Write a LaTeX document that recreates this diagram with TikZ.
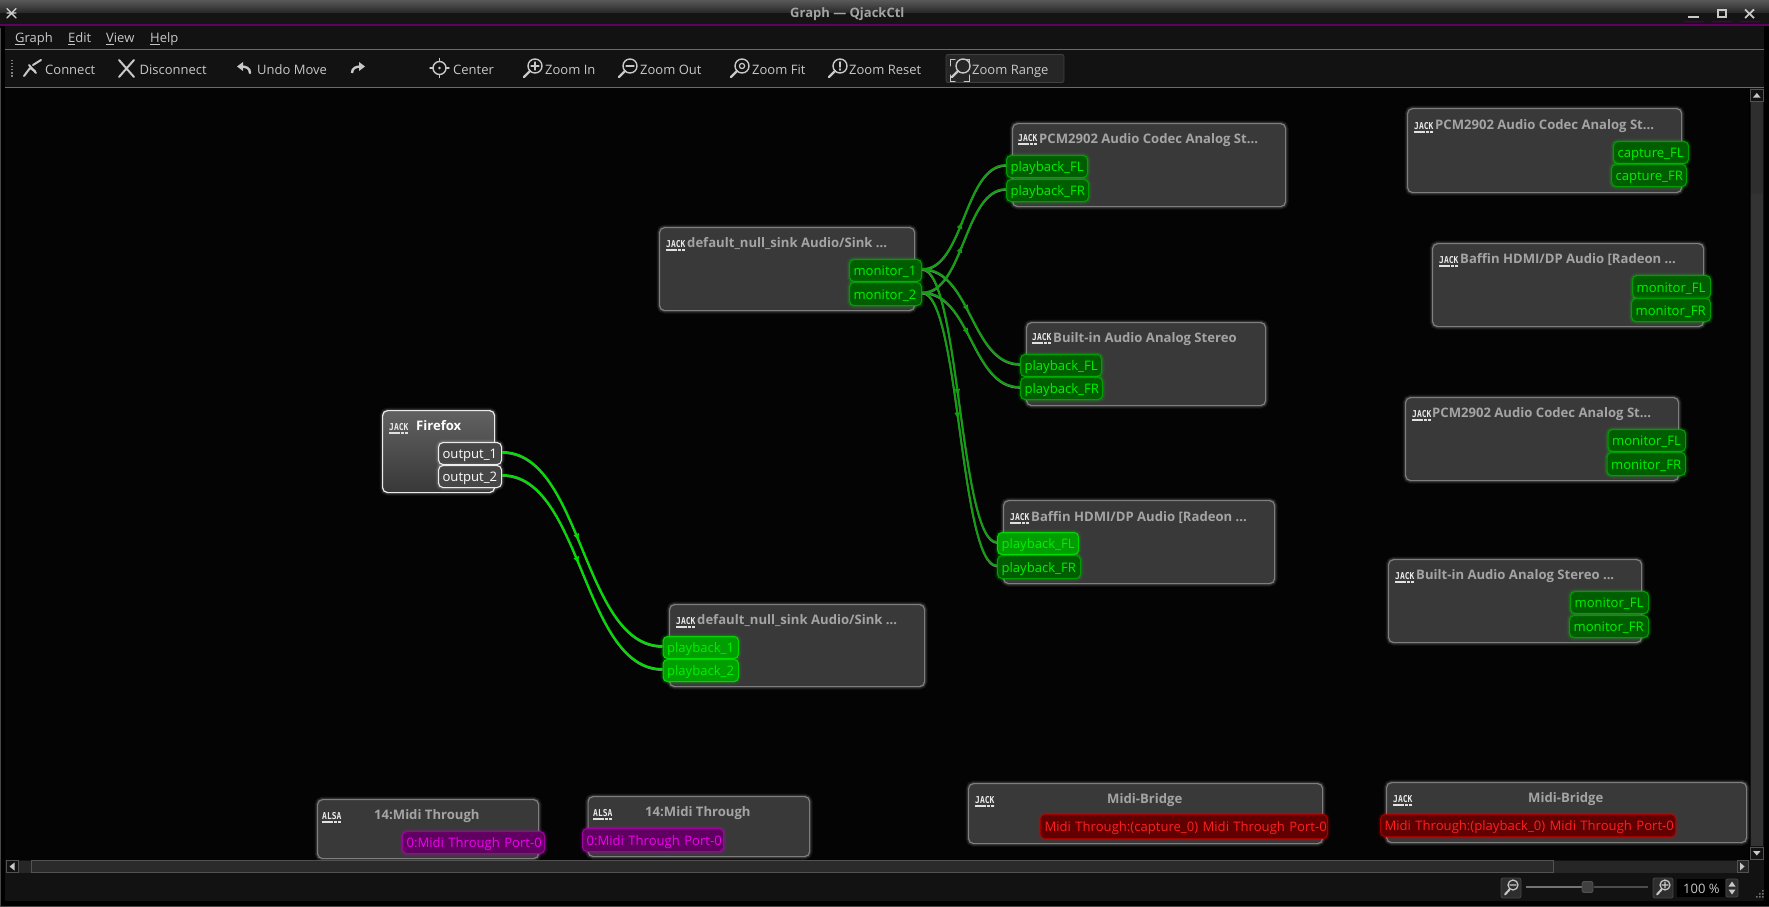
\documentclass[tikz,border=0pt]{standalone}
\usepackage{fontspec}
\setmainfont{Open Sans}
\newfontfamily\logofont{DejaVu Sans Mono}
\usetikzlibrary{calc,arrows.meta,decorations.markings}
\definecolor{bgblack}{HTML}{040404}
\definecolor{chrome}{HTML}{121212}
\definecolor{rule}{HTML}{6A6A6A}
\definecolor{uitext}{HTML}{C8C8C8}
\definecolor{gborder}{HTML}{7E7E7E}
\definecolor{gfill}{HTML}{393939}
\definecolor{gtitle}{HTML}{A4A4A4}
\definecolor{pgreen}{HTML}{00F000}
\definecolor{wdim}{HTML}{10A010}
\definecolor{mgfill}{HTML}{600060}
\definecolor{mgdraw}{HTML}{A000A0}
\definecolor{mgtext}{HTML}{F000F0}
\definecolor{rdfill}{HTML}{600000}
\definecolor{rddraw}{HTML}{A00000}
\definecolor{rdtext}{HTML}{FF2020}
\definecolor{grfill}{HTML}{005E00}
\definecolor{grdraw}{HTML}{009E00}
\definecolor{gbfill}{HTML}{009E00}
\definecolor{gbdraw}{HTML}{00D800}
\newcommand{\ptfont}{\fontsize{13.1}{16}\selectfont}
\newcommand{\tbfont}{\fontsize{13}{16}\selectfont}
\tikzset{
 glowg/.style={preaction={draw=#1,draw opacity=.07,line width=6pt},preaction={draw=#1,draw opacity=.12,line width=3.5pt}},
 gbox/.style={draw=gborder,fill=gfill,line width=1.2pt,rounded corners=5pt,inner sep=0pt,anchor=north west,glowg=white},
 fbox/.style={draw=white!92!black,top color=black!62,bottom color=black!78,line width=1.2pt,rounded corners=5pt,inner sep=0pt,anchor=north west,glowg=white},
 portbase/.style={rounded corners=4.5pt,line width=1.1pt,inner ysep=0pt,inner xsep=4pt,anchor=north west,align=left,text height=12pt,text depth=1.5pt,font=\ptfont},
 pgr/.style={portbase,draw=grdraw,fill=grfill,text=pgreen,glowg=green},
 pgb/.style={portbase,draw=gbdraw,fill=gbfill,text=pgreen,glowg=green},
 pmg/.style={portbase,draw=mgdraw,fill=mgfill,text=mgtext,glowg=mgtext},
 prd/.style={portbase,draw=rddraw,fill=rdfill,text=rdtext,glowg=red},
 pwh/.style={portbase,draw=white!92!black,fill=black!72,text=white,glowg=white},
 titlet/.style={anchor=base west,inner sep=0pt,text=gtitle,font=\ptfont\bfseries},
 logot/.style={anchor=base west,inner sep=0pt,text=white!92!black,font=\fontsize{9.5}{10}\selectfont\logofont\bfseries},
 tbt/.style={anchor=base west,inner sep=0pt,text=uitext,font=\tbfont},
 icon/.style={draw=uitext,line width=1.4pt,line cap=round},
 wirebright/.style={draw=pgreen!93!black,line width=2.1pt,
   preaction={draw=gray,line width=1.8pt,transform canvas={yshift=-1pt}},
   postaction={decorate,decoration={markings,mark=at position .47 with {\arrow[pgreen!93!black]{Latex[length=8pt,width=6pt]}}}}},
 wiredim/.style={draw=wdim,line width=2pt,
   preaction={draw=gray,line width=1.6pt,transform canvas={yshift=-1pt}},
   postaction={decorate,decoration={markings,mark=at position .47 with {\arrow[wdim]{Latex[length=8pt,width=6pt]}}}}},
}
\newcommand{\gboxat}[6]{\pgfmathsetlengthmacro{\bxw}{#4-#2}\pgfmathsetlengthmacro{\bxh}{#5-#3}%
 \node[#6,minimum width=\bxw,minimum height=\bxh] (#1) at (#2,#3) {};}
\newcommand{\portat}[7]{\pgfmathsetlengthmacro{\bxw}{#4-#2-8}\pgfmathsetlengthmacro{\bxh}{#5-#3}%
 \node[#6,text width=\bxw,minimum height=\bxh] (#1) at (#2,#3) {\mbox{#7}};}
\newcommand{\logoat}[4]{\node[logot] (#1) at (#2,#3+2.5) {\scalebox{.84}[1]{#4}};
 \draw[white!88!black,line width=1.6pt,dash pattern=on 11pt off 1pt on 3pt off 1pt on 3pt off 0pt] (#2,#3+5) -- ++(19,0);}
\newcommand{\linkit}[3]{\path let \p1=(#1.east),\p2=(#2.west),\n1={.5*(\x2-\x1)} in
 [#3] ([yshift=1.5pt]#1.east) .. controls +(\n1,0) and +(-\n1,0) .. ([yshift=1.5pt]#2.west);}
\newcommand{\lens}[2]{\draw[icon] (#1+13,#2+6) circle[radius=7pt]; \draw[icon,line width=2.4pt] (#1+8,#2+11) -- (#1+2,#2+17);}
\begin{document}
\begin{tikzpicture}[x=1pt,y=-1pt]
\useasboundingbox (0,0) rectangle (1769,907);
\fill[black] (0,0) rectangle (1769,907);
% title bar
\shade[top color=black!65,bottom color=black!85] (0,0) rectangle (1769,13);
\fill[black!92] (0,13) rectangle (1769,24);
\fill[violet!75!black] (0,24.2) rectangle (1769,25.6);
\fill[black] (0,25.6) rectangle (1769,28);
\node[anchor=base west,inner sep=0pt,text=gtitle,font=\fontsize{13}{16}\selectfont\bfseries] (wintitle) at (790,17.5) {Graph — QjackCtl};
\draw[icon] (7,8.5) -- (16,18) (16,8.5) -- (7,18) (7,13) -- (16,13);
\draw[uitext,line width=2pt] (1688,17) -- (1699,17);
\draw[uitext,line width=1.8pt] (1718,10) rectangle (1726,17);
\draw[uitext,line width=1.8pt] (1745,9.5) -- (1754,18) (1754,9.5) -- (1745,18);
\fill[violet!60!black] (1684,21) rectangle (1704,22.5) (1712,21) rectangle (1732,22.5) (1740,21) rectangle (1760,22.5);
% menu + toolbar
\fill[chrome] (5,26) rectangle (1764,87);
\node[tbt] (mgraph) at (15,42.5) {\underline{G}raph};
\node[tbt] (medit) at (68,42.5) {\underline{E}dit};
\node[tbt] (mview) at (106,42.5) {\underline{V}iew};
\node[tbt] (mhelp) at (150,42.5) {\underline{H}elp};
\draw[rule,line width=1pt] (5,49.5) -- (1764,49.5);
\draw[rule,line width=1pt] (5,87.5) -- (1764,87.5);
\draw[gray,line width=2.5pt,dash pattern=on 1.5pt off 1.5pt] (12,60) -- (12,78);
\node[tbt] (tconnect) at (45,74.8) {Connect};
\node[tbt] (tdisc) at (139.5,74.8) {Disconnect};
\node[tbt] (tundo) at (257,74.8) {Undo Move};
\node[tbt] (tcenter) at (453,74.8) {Center};
\node[tbt] (tzin) at (545,74.8) {Zoom In};
\node[tbt] (tzout) at (640,74.8) {Zoom Out};
\node[tbt] (tzfit) at (752,74.8) {Zoom Fit};
\node[tbt] (tzreset) at (849,74.8) {Zoom Reset};
\draw[black!75,fill=black!85,line width=.8pt,rounded corners=2pt] (946,54.5) rectangle (1064,82.5);
\node[tbt] (tzrange) at (972,74.8) {Zoom Range};
% toolbar icons
\draw[icon,line width=2pt] (24,76) -- (30,68) (30,68) -- (35,71) (33,65) -- (41,60);
\draw[icon,line width=2pt] (29,65) -- (36,73);
\draw[icon,line width=2pt] (119,60) -- (134,77) (134,60) -- (119,77);
\draw[icon,line width=2.4pt] (250,73) .. controls (250,68) and (246,66.5) .. (241,66.5);
\fill[uitext] (237,66.5) -- (243,62) -- (243,71) -- cycle;
\draw[uitext,line width=2.4pt] (352,73) .. controls (352,68) and (356,66.5) .. (361,66.5);
\fill[uitext] (365,66.5) -- (359,62) -- (359,71) -- cycle;
\draw[icon] (439.5,68) circle[radius=6.5pt];
\fill[uitext] (439.5,68) circle[radius=1.3pt];
\draw[icon] (439.5,58.5) -- (439.5,61) (439.5,75) -- (439.5,77.5) (430,68) -- (433,68) (446,68) -- (449,68);
\lens{522}{60} \draw[icon,line width=1.2pt] (531,66) -- (539,66) (535,62) -- (535,70);
\lens{617}{60} \draw[icon,line width=1.2pt] (626,66) -- (634,66);
\lens{729}{60} \draw[icon,line width=1.2pt] (742,66) circle[radius=2.6pt];
\lens{827}{60} \draw[icon,line width=1.6pt] (840,62) -- (840,67) (840,69) -- (840,70);
\lens{950}{60}
\draw[icon,line width=1pt] (950,66) -- (950,60) -- (955,60) (964,60) -- (969,60) -- (969,66) (950,75) -- (950,81) -- (955,81) (969,75) -- (969,81) -- (964,81);
% canvas
\fill[bgblack] (5,88) rectangle (1749,860);
% graph nodes
\gboxat{pcmplay}{1012}{123}{1285}{206}{gbox}
\gboxat{bltplay}{1026}{322}{1265}{405}{gbox}
\gboxat{nullsrc}{659}{227}{914}{310}{gbox}
\gboxat{bafplay}{1003}{500}{1274}{583}{gbox}
\gboxat{nullsink}{669}{604}{924}{686}{gbox}
\gboxat{firefox}{382}{410}{494}{492}{fbox}
\gboxat{pcmcap}{1407}{108}{1681}{192}{gbox}
\gboxat{bafmon}{1432}{243}{1703}{326}{gbox}
\gboxat{pcmmon}{1405}{397}{1678}{480}{gbox}
\gboxat{bltmon}{1388}{559}{1641}{642}{gbox}
\gboxat{alsaa}{317}{799}{538}{858}{gbox}
\gboxat{alsab}{587.5}{796}{809}{856}{gbox}
\gboxat{bridgea}{968}{783}{1322}{843}{gbox}
\gboxat{bridgeb}{1386}{782}{1746}{842}{gbox}
% titles
\node[titlet] (tpcmplay) at (1039,143) {PCM2902 Audio Codec Analog St...};
\node[titlet] (tbltplay) at (1053,342) {Built-in Audio Analog Stereo};
\node[titlet] (tnullsrc) at (687,247) {default\_null\_sink Audio/Sink ...};
\node[titlet] (tbafplay) at (1031,521) {Baffin HDMI/DP Audio [Radeon ...};
\node[titlet] (tnullsink) at (697,624) {default\_null\_sink Audio/Sink ...};
\node[titlet,text=white] (tfirefox) at (416,430) {Firefox};
\node[titlet] (tpcmcap) at (1435,129) {PCM2902 Audio Codec Analog St...};
\node[titlet] (tbafmon) at (1460,263) {Baffin HDMI/DP Audio [Radeon ...};
\node[titlet] (tpcmmon) at (1432,417) {PCM2902 Audio Codec Analog St...};
\node[titlet] (tbltmon) at (1416,579) {Built-in Audio Analog Stereo ...};
\node[titlet] (talsaa) at (374,819) {14:Midi Through};
\node[titlet] (talsab) at (645,816) {14:Midi Through};
\node[titlet] (tbra) at (1107,803) {Midi-Bridge};
\node[titlet] (tbrb) at (1528,802) {Midi-Bridge};
% logos
\logoat{lpcmplay}{1018}{139}{JACK}
\logoat{lbltplay}{1032}{338}{JACK}
\logoat{lnullsrc}{666}{245}{JACK}
\logoat{lbafplay}{1010}{518}{JACK}
\logoat{lnullsink}{676}{622}{JACK}
\logoat{lfirefox}{389}{428}{JACK}
\logoat{lpcmcap}{1414}{127}{JACK}
\logoat{lbafmon}{1439}{261}{JACK}
\logoat{lpcmmon}{1412}{415}{JACK}
\logoat{lbltmon}{1395}{577}{JACK}
\logoat{lalsaa}{322}{817}{ALSA}
\logoat{lalsab}{593}{814}{ALSA}
\logoat{lbra}{975}{801}{JACK}
\logoat{lbrb}{1393}{800}{JACK}
% ports
\portat{pcmplayfl}{1006}{155}{1087}{177}{pgr}{playback\_FL}
\portat{pcmplayfr}{1006}{179}{1088}{201}{pgr}{playback\_FR}
\portat{bltplayfl}{1020}{354}{1101}{376}{pgr}{playback\_FL}
\portat{bltplayfr}{1020}{377}{1102}{399}{pgr}{playback\_FR}
\portat{mon1}{849}{259}{921}{281}{pgr}{monitor\_1}
\portat{mon2}{849}{282}{921}{305}{pgr}{monitor\_2}
\portat{bafplayfl}{997}{532}{1078}{554}{pgb}{playback\_FL}
\portat{bafplayfr}{997}{555}{1080}{578}{pgr}{playback\_FR}
\portat{pb1}{662.5}{636}{738}{658}{pgb}{playback\_1}
\portat{pb2}{662.5}{659}{738}{681}{pgb}{playback\_2}
\portat{out1}{438}{442}{501}{464}{pwh}{output\_1}
\portat{out2}{438}{465}{501}{487}{pwh}{output\_2}
\portat{capfl}{1613}{141}{1688}{163}{pgr}{capture\_FL}
\portat{capfr}{1611}{164}{1686}{186}{pgr}{capture\_FR}
\portat{bmfl}{1632}{275}{1710}{298}{pgr}{monitor\_FL}
\portat{bmfr}{1631}{298}{1710}{321}{pgr}{monitor\_FR}
\portat{pmfl}{1607.5}{429}{1685}{451}{pgr}{monitor\_FL}
\portat{pmfr}{1606.5}{452}{1685}{475}{pgr}{monitor\_FR}
\portat{imfl}{1570}{591}{1648}{613}{pgr}{monitor\_FL}
\portat{imfr}{1569}{615}{1648}{637}{pgr}{monitor\_FR}
\portat{alsaap}{402}{831}{544}{853}{pmg}{0:Midi Through Port-0}
\portat{alsabp}{582}{828}{723}{851}{pmg}{0:Midi Through Port-0}
\portat{brap}{1040}{814}{1327}{838}{prd}{Midi Through:(capture\_0) Midi Through Port-0}
\portat{brbp}{1380}{814}{1675}{836}{prd}{Midi Through:(playback\_0) Midi Through Port-0}
% connectors
\linkit{out1}{pb1}{wirebright}
\linkit{out2}{pb2}{wirebright}
\linkit{mon1}{pcmplayfl}{wiredim}
\linkit{mon2}{pcmplayfr}{wiredim}
\linkit{mon1}{bltplayfl}{wiredim}
\linkit{mon2}{bltplayfr}{wiredim}
\linkit{mon1}{bafplayfl}{wiredim}
\linkit{mon2}{bafplayfr}{wiredim}
% scroll bars
\fill[chrome] (1750,88) rectangle (1764,874);
\fill[black!82] (1751,102) rectangle (1763,846);
\fill[black!80] (1751,194) rectangle (1763,846);
\draw[black!68,line width=.8pt] (1750.5,89.5) rectangle (1763,101) (1750.5,847) rectangle (1763,859);
\fill[uitext] (1753,97.5) -- (1760.5,97.5) -- (1756.8,93) -- cycle;
\fill[uitext] (1753,851) -- (1760.5,851) -- (1756.8,855.5) -- cycle;
\fill[chrome] (5,860) rectangle (1750,901);
\fill[black!85] (19,861) rectangle (1749,873);
\draw[black!68,line width=.8pt,fill=black!83] (31,860.5) rectangle (1553,872.5);
\draw[black!68,line width=.8pt] (6.5,860.5) rectangle (18.5,872.5) (1737,860.5) rectangle (1748.5,872.5);
\fill[uitext] (9.5,866.5) -- (14.5,862.5) -- (14.5,870.5) -- cycle;
\fill[uitext] (1744.5,866.5) -- (1740,862.5) -- (1740,870.5) -- cycle;
% status bar
\fill[chrome] (1750,874) rectangle (1764,901);
\draw[black!72,fill=black!82,line width=.8pt,rounded corners=2pt] (1501,878) rectangle (1521,898) (1653,878) rectangle (1673,898);
\draw[icon,line width=1.2pt] (1513,885) circle[radius=5pt] (1510,885) -- (1516,885);
\draw[icon,line width=2pt] (1509.5,889.5) -- (1505,894.5);
\draw[icon,line width=1.2pt] (1665,885) circle[radius=5pt] (1662,885) -- (1668,885) (1665,882) -- (1665,888);
\draw[icon,line width=2pt] (1661.5,889.5) -- (1657,894.5);
\draw[black!55,line width=2pt] (1526,887) -- (1582,887);
\draw[black!70,line width=2pt] (1594,887) -- (1648,887);
\draw[black!68,fill=black!75,line width=.8pt,rounded corners=2pt] (1582,881.5) rectangle (1593,892.5);
\fill[black] (1677,879) rectangle (1725,897);
\node[anchor=base west,inner sep=0pt,text=uitext,font=\tbfont] (zoompct) at (1683,893) {100 \%};
\draw[black!72,fill=black!82,line width=.8pt,rounded corners=2pt] (1726,879) rectangle (1738,897);
\fill[uitext] (1728.5,886.5) -- (1735.5,886.5) -- (1732,881.5) -- cycle;
\fill[uitext] (1728.5,889.5) -- (1735.5,889.5) -- (1732,894.5) -- cycle;
\fill[black!55] (1762,890) rectangle (1763.5,891.5) (1759,893) rectangle (1760.5,894.5) (1762,893) rectangle (1763.5,894.5) (1756,896) rectangle (1757.5,897.5) (1759,896) rectangle (1760.5,897.5) (1762,896) rectangle (1763.5,897.5);
\fill[black!72] (0,905.5) rectangle (1769,907);
\fill[black!72] (0,28) rectangle (1,907);
\end{tikzpicture}
\end{document}
